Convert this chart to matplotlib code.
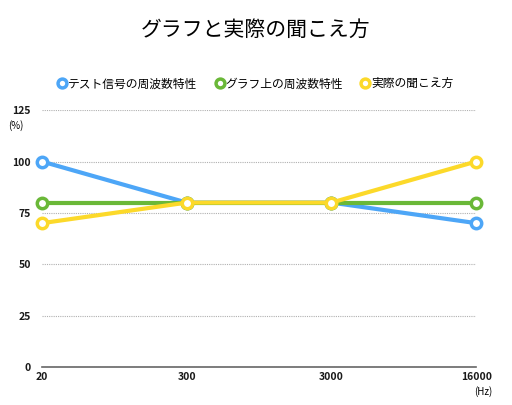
import matplotlib
matplotlib.use('Agg')
import matplotlib.pyplot as plt

plt.rcParams['font.family'] = ['Noto Sans CJK JP', 'DejaVu Sans']

# データ
freq_labels = ['20', '300', '3000', '16000']
test_signal = [100, 80, 80, 70]
graph_resp = [80, 80, 80, 80]
actual_hear = [70, 80, 80, 100]
series_names = ['テスト信号の周波数特性', 'グラフ上の周波数特性', '実際の聞こえ方']
series_colors = ['#4da6f7', '#6ab838', '#fcd92a']

fig = plt.figure(figsize=(5.12, 4.05), dpi=100)
ax = fig.add_axes([0.082, 0.094, 0.848, 0.634])

x = list(range(len(freq_labels)))
for vals, name, col in zip([test_signal, graph_resp, actual_hear], series_names, series_colors):
    ax.plot(x, vals, color=col, linewidth=3.0, marker='o', markersize=7.5,
            markerfacecolor='white', markeredgecolor=col, markeredgewidth=2.5,
            label=name, clip_on=False, zorder=3)

ax.set_xlim(0, 3)
ax.set_ylim(0, 125)
ax.set_yticks([0, 25, 50, 75, 100, 125])
ax.set_xticks(x)
ax.set_xticklabels(freq_labels)
ax.yaxis.grid(True, color='#b0b0b0', linestyle=(0, (1, 1)), linewidth=0.8)
ax.set_axisbelow(True)
for s in ['top', 'right', 'left']:
    ax.spines[s].set_visible(False)
ax.spines['bottom'].set_color('#666666')
ax.spines['bottom'].set_linewidth(1.2)
ax.tick_params(length=0, labelsize=7.5, colors='#1a1a1a')
ax.tick_params(axis='y', pad=8)
ax.tick_params(axis='x', pad=4)
for t in ax.get_xticklabels() + ax.get_yticklabels():
    t.set_fontweight('bold')

fig.text(0.016, 0.691, '(%)', fontsize=7, ha='left', va='center')
fig.text(0.962, 0.02, '(Hz)', fontsize=7, ha='right', va='bottom')

fig.text(0.5, 0.925, 'グラフと実際の聞こえ方', fontsize=15, ha='center', va='center')

ax.legend(loc='center', bbox_to_anchor=(0.5, 0.793), bbox_transform=fig.transFigure,
          ncol=3, frameon=False, fontsize=8.5, handlelength=0.6, handletextpad=0.2,
          columnspacing=1.6, markerscale=0.85)
leg = ax.get_legend()
for h in leg.legend_handles:
    h.set_linestyle('none')

fig.savefig('out.png', dpi=100)
